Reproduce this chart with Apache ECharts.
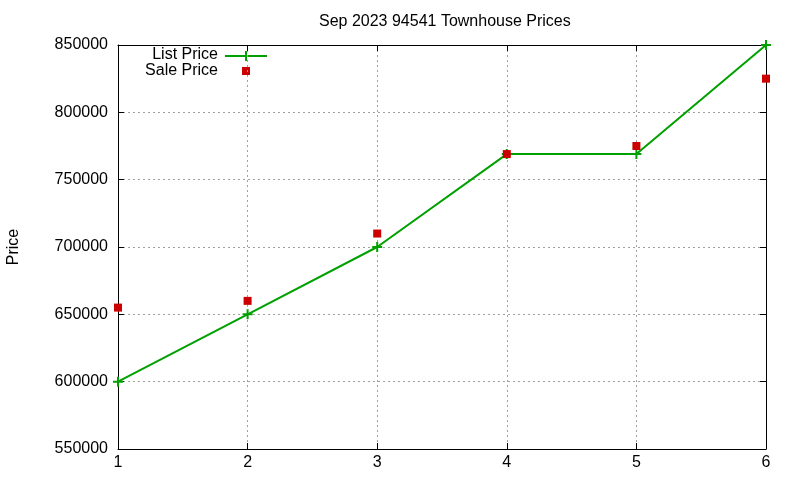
<!DOCTYPE html>
<html>
<head>
<meta charset="utf-8">
<script src="https://cdn.jsdelivr.net/npm/echarts@6/dist/echarts.min.js"></script>
<style>
  html, body { margin: 0; padding: 0; background: #fff; }
  #main { width: 800px; height: 480px; }
</style>
</head>
<body>
<div id="main"></div>
<script>
// data
var houses = [1, 2, 3, 4, 5, 6];
var listPrice = [600000, 650000, 700000, 769000, 769000, 850000];
var salePrice = [655000, 660000, 710000, 769000, 775000, 825000];
var yTicks = { min: 550000, max: 850000, step: 50000 };

var FONT = 'Liberation Sans';
var plusPath = 'path://M4,0h2v4h4v2h-4v4h-2v-4h-4v-2h4z';

var myChart = echarts.init(document.getElementById('main'));

var gridLine = { show: true, lineStyle: { color: '#a0a0a0', type: [2, 3], width: 1 } };
var border = { show: true, lineStyle: { color: '#000', width: 1 } };

var option = {
    backgroundColor: '#fff',
    animation: false,
    title: {
        text: 'Sep 2023 94541 Townhouse Prices',
        left: 314, top: 9,
        textStyle: { fontFamily: FONT, fontSize: 16, fontWeight: 'normal', color: '#000' }
    },
    grid: { left: 118, right: 34, top: 45, bottom: 31, outerBoundsMode: 'none', containLabel: false },
    xAxis: [{
        type: 'value', min: 1, max: 6, interval: 1,
        axisLine: border,
        axisTick: { show: true, inside: true, length: 6, lineStyle: { color: '#000' } },
        axisLabel: { fontFamily: FONT, fontSize: 16, color: '#000', margin: 6 },
        splitLine: gridLine
    }, {
        type: 'value', position: 'top', min: 1, max: 6, interval: 1,
        axisLine: border,
        axisTick: { show: true, inside: true, length: 6, lineStyle: { color: '#000' } },
        axisLabel: { show: false },
        splitLine: { show: false }
    }],
    yAxis: [{
        type: 'value', min: yTicks.min, max: yTicks.max, interval: yTicks.step,
        name: 'Price', nameLocation: 'middle', nameGap: 96, nameRotate: 90,
        nameTextStyle: { fontFamily: FONT, fontSize: 16, color: '#000' },
        axisLine: border,
        axisTick: { show: true, inside: true, length: 6, lineStyle: { color: '#000' } },
        axisLabel: { fontFamily: FONT, fontSize: 16, color: '#000', margin: 10,
                     formatter: function (v) { return String(v); } },
        splitLine: gridLine
    }, {
        type: 'value', position: 'right', min: yTicks.min, max: yTicks.max, interval: yTicks.step,
        axisLine: border,
        axisTick: { show: true, inside: true, length: 6, lineStyle: { color: '#000' } },
        axisLabel: { show: false },
        splitLine: { show: false }
    }],
    series: [{
        name: 'List Price',
        type: 'line',
        data: houses.map(function (h, i) { return [h, listPrice[i]]; }),
        symbol: plusPath,
        symbolSize: 10,
        showAllSymbol: true,
        lineStyle: { color: '#00a000', width: 2 },
        itemStyle: { color: '#00a000' },
        z: 3
    }, {
        name: 'Sale Price',
        type: 'scatter',
        data: houses.map(function (h, i) { return [h, salePrice[i]]; }),
        symbol: 'rect',
        symbolSize: 8,
        itemStyle: { color: '#cc0000', opacity: 1 },
        z: 4
    }],
    // gnuplot style key: text right aligned, sample to the right
    graphic: [
        { type: 'text', right: 800 - 218, top: 47,
          style: { text: 'List Price', fontFamily: FONT, fontSize: 16, fill: '#000' } },
        { type: 'text', right: 800 - 218, top: 63,
          style: { text: 'Sale Price', fontFamily: FONT, fontSize: 16, fill: '#000' } },
        { type: 'line', shape: { x1: 225, y1: 56, x2: 267, y2: 56 },
          style: { stroke: '#00a000', lineWidth: 2 } },
        { type: 'line', shape: { x1: 246, y1: 51, x2: 246, y2: 61 },
          style: { stroke: '#00a000', lineWidth: 2 } },
        { type: 'rect', shape: { x: 242, y: 67, width: 8, height: 8 },
          style: { fill: '#cc0000' } }
    ]
};

myChart.setOption(option);
</script>
</body>
</html>
